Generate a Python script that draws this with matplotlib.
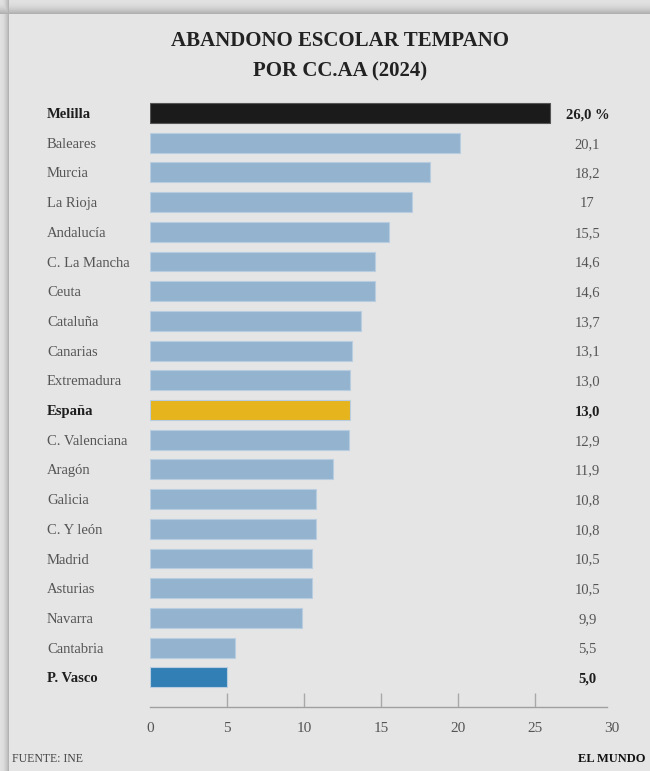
import matplotlib
matplotlib.use('Agg')
import matplotlib.pyplot as plt
import numpy as np

plt.rcParams['font.family'] = ['Liberation Serif', 'DejaVu Serif']

regions = ['Melilla', 'Baleares', 'Murcia', 'La Rioja', 'Andalucía', 'C. La Mancha',
           'Ceuta', 'Cataluña', 'Canarias', 'Extremadura', 'España', 'C. Valenciana',
           'Aragón', 'Galicia', 'C. Y león', 'Madrid', 'Asturias', 'Navarra',
           'Cantabria', 'P. Vasco']
values = [26.0, 20.1, 18.2, 17.0, 15.5, 14.6, 14.6, 13.7, 13.1, 13.0, 13.0, 12.9,
          11.9, 10.8, 10.8, 10.5, 10.5, 9.9, 5.5, 5.0]
value_labels = ['26,0 %', '20,1', '18,2', '17', '15,5', '14,6', '14,6', '13,7', '13,1',
                '13,0', '13,0', '12,9', '11,9', '10,8', '10,8', '10,5', '10,5', '9,9',
                '5,5', '5,0']
highlight = {'Melilla': '#1b1b1b', 'España': '#e6b41c', 'P. Vasco': '#317fb4'}
xticks = [0, 5, 10, 15, 20, 25, 30]

W, H = 650, 771
fig = plt.figure(figsize=(W / 100, H / 100), dpi=100)

# background: light panel with a soft shadow along the top and left edges
bg = fig.add_axes([0, 0, 1, 1])
yy, xx = np.mgrid[0:H, 0:W]
shade = np.full((H, W), 0.898)
t = np.clip(yy / 14.0, 0, 1) ** 2
l = np.clip(xx / 9.0, 0, 1) ** 2
shade = np.where(yy < 14, 0.88 - 0.22 * t, shade)
shade = np.where((xx < 9) & (yy >= 14), 0.88 - 0.22 * l, shade)
shade = np.where((xx < 9) & (yy < 14), np.minimum(0.88 - 0.22 * t, 0.88 - 0.22 * l), shade)
bg.imshow(shade, cmap='gray', vmin=0, vmax=1, aspect='auto', interpolation='bilinear')
bg.axis('off')

ax = fig.add_axes([150 / W, 1 - 707 / H, 462 / W, (707 - 98.2) / H])
ax.patch.set_alpha(0)

ypos = np.arange(len(regions))
colors = [highlight.get(r, '#93b3cf') for r in regions]
edges = [('#555555' if r == 'Melilla' else '#b9cde0') for r in regions]
ax.barh(ypos, values, height=0.67, color=colors, edgecolor=edges, linewidth=0.8)

ax.set_xlim(0, 30)
ax.set_ylim(len(regions), -0.5)
for s in ax.spines.values():
    s.set_visible(False)
ax.set_yticks([])
ax.set_xticks(xticks)
ax.set_xticklabels([str(t) for t in xticks], fontsize=11, color='#555555')
ax.tick_params(axis='x', length=0, pad=11)
ax.axhline(len(regions), xmin=0, xmax=0.99, color='#a0a0a0', lw=1.0, clip_on=False)
ax.vlines(xticks[1:-1], 0, 0.023, transform=ax.get_xaxis_transform(),
          color='#a8a8a8', lw=1.0)

for i, (r, lab) in enumerate(zip(regions, value_labels)):
    bold = r in highlight
    c = '#1e1e1e' if bold else '#555555'
    w = 'bold' if bold else 'normal'
    ax.text(-103 / 462 * 30, i, r, ha='left', va='center_baseline', fontsize=10.5,
            color=c, fontweight=w)
    ax.text(28.4, i, lab, ha='center', va='center_baseline', fontsize=10.5,
            color=c, fontweight=w)

fig.text(0.523, 1 - 41 / H, 'ABANDONO ESCOLAR TEMPANO', ha='center', va='center',
         fontsize=15, fontweight='bold', color='#222222')
fig.text(0.523, 1 - 71 / H, 'POR CC.AA (2024)', ha='center', va='center',
         fontsize=15, fontweight='bold', color='#222222')

fig.text(12 / W, 1 - 759 / H, 'FUENTE: INE', ha='left', va='center',
         fontsize=8.5, color='#444444')
fig.text(646 / W, 1 - 759 / H, 'EL MUNDO', ha='right', va='center',
         fontsize=9, color='#111111', fontweight='bold')

fig.savefig('out.png', dpi=100)
